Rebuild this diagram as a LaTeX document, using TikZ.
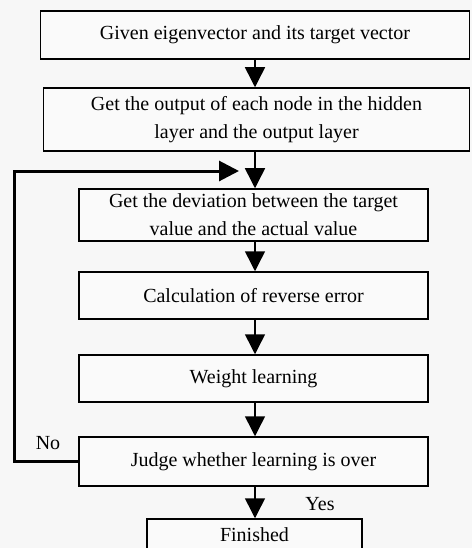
\documentclass[tikz,border=0pt]{standalone}
\usepackage{fontspec}
\setmainfont{Liberation Serif}
\usetikzlibrary{positioning,arrows.meta}
\tikzset{
box/.style={draw, line width=1.5pt, fill=black!2, inner sep=0pt, align=center},
flow/.style={line width=1.5pt, -{Triangle[length=20pt,width=20pt]}},
}

\begin{document}
\begin{tikzpicture}[x=1pt, y=-1pt, font=\fontsize{20}{28}\selectfont]
\fill[black!3] (0,0) rectangle (472,548);
\useasboundingbox (0,0) rectangle (472,548);
\node[box, minimum width=429pt, minimum height=48pt] (given) at (255,35) {Given eigenvector and its target vector};
\node[box, minimum width=426pt, minimum height=63pt] (output) at (256.5,119.5) {Get the output of each node in the hidden\\layer and the output layer};
\node[box, minimum width=349pt, minimum height=52pt] (deviation) at (253.5,215) {Get the deviation between the target\\value and the actual value};
\node[box, minimum width=349pt, minimum height=47pt] (reverse) at (253.5,295.5) {Calculation of reverse error};
\node[box, minimum width=349pt, minimum height=47pt] (weight) at (253.5,378.5) {Weight learning};
\node[box, minimum width=349pt, minimum height=49pt] (judge) at (253.5,461.5) {Judge whether learning is over};
\node[box, minimum width=215pt, minimum height=32pt] (finished) at (254.5,535) {Finished};
\coordinate (loopend) at (239,171);
\draw[flow] (given.south -| 255,0) -- (output.north -| 255,0);
\draw[flow] (output.south -| 255,0) -- (deviation.north -| 255,0);
\draw[flow] (deviation.south -| 255,0) -- (reverse.north -| 255,0);
\draw[flow] (reverse.south -| 255,0) -- (weight.north -| 255,0);
\draw[flow] (weight.south -| 255,0) -- (judge.north -| 255,0);
\draw[flow] (judge.south -| 255,0) -- (finished.north -| 255,0);
\draw[flow, line width=3pt] (judge.west) -- ++(-63.5,0) |- (loopend);
\node (no) at (48,443) {No};
\node (yes) at (320,504) {Yes};
\end{tikzpicture}
\end{document}
